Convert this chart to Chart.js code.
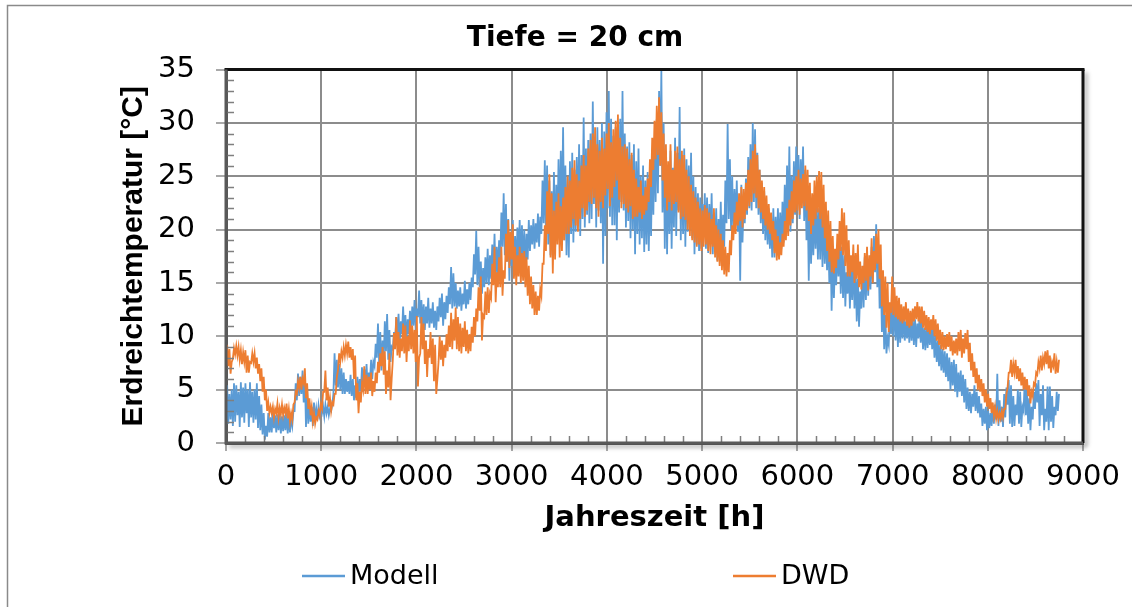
<!DOCTYPE html>
<html>
<head>
<meta charset="utf-8">
<script src="https://cdn.jsdelivr.net/npm/chart.js@4.4.1/dist/chart.umd.min.js"></script>
<style>
  html, body { margin: 0; padding: 0; background: #ffffff; }
  #wrap { position: relative; width: 1132px; height: 607px; }
  canvas { display: block; }
</style>
</head>
<body>
<div id="wrap"><canvas id="c" width="1132" height="607"></canvas></div>
<script>
// ---- data: daily low / daily high of each series (day 0 = hour 0) ----
const hoursPerDay = 24;
const seriesNames = ["Modell", "DWD"];
const xTicks = [0, 1000, 2000, 3000, 4000, 5000, 6000, 7000, 8000, 9000];
const yTicks = [0, 5, 10, 15, 20, 25, 30, 35];

const modellHigh = [
  5.4, 4.6, 5.0, 5.6, 5.4, 4.8, 5.7, 5.2, 5.6, 5.0,
  5.7, 4.8, 5.0, 5.6, 4.4, 3.6, 2.8, 1.6, 2.8, 2.4,
  2.8, 2.6, 2.7, 2.8, 2.5, 2.6, 2.8, 2.4, 2.3, 3.0,
  5.6, 6.5, 6.2, 6.8, 6.4, 5.0, 3.8, 3.4, 3.8, 3.2,
  3.5, 3.2, 3.4, 3.6, 3.4, 3.2, 3.6, 8.4, 7.8, 7.4,
  7.0, 6.6, 6.0, 5.8, 6.4, 6.0, 5.4, 6.2, 6.0, 7.1,
  6.9, 7.4, 6.6, 7.8, 7.6, 9.3, 11.2, 10.4, 9.6, 11.4,
  12.1, 10.6, 9.0, 10.4, 11.8, 12.1, 11.4, 12.8, 12.0, 11.6,
  12.4, 12.8, 13.4, 12.6, 14.3, 13.4, 13.0, 12.8, 13.6, 12.6,
  13.2, 12.4, 12.8, 13.6, 14.0, 13.2, 13.8, 14.6, 16.5, 15.9,
  15.0, 14.3, 14.6, 14.0, 15.2, 14.4, 15.0, 15.5, 17.7, 19.9,
  18.4, 17.0, 16.4, 17.4, 18.2, 17.6, 18.6, 19.6, 18.4, 19.0,
  21.6, 23.4, 22.4, 21.0, 19.8, 20.9, 19.4, 20.2, 20.9, 20.4,
  20.0, 19.6, 20.9, 20.4, 21.0, 20.6, 21.5, 21.2, 24.6, 26.5,
  26.0, 24.6, 23.6, 25.4, 24.2, 26.6, 27.4, 29.6, 26.0, 25.0,
  26.4, 27.2, 25.6, 26.8, 28.0, 27.0, 30.5, 27.6, 28.4, 29.0,
  32.0, 28.6, 29.6, 28.4, 30.0, 29.2, 31.0, 33.0, 30.4, 28.8,
  29.6, 28.4, 30.4, 33.0, 29.0, 27.8, 28.2, 27.0, 28.0, 26.4,
  27.6, 25.0, 26.0, 24.6, 25.4, 24.2, 27.0, 28.6, 30.4, 33.0,
  34.9, 30.0, 27.4, 26.0, 27.4, 25.8, 28.6, 27.2, 31.5, 27.0,
  27.6, 26.6, 26.0, 27.2, 25.0, 24.0, 23.4, 23.0, 22.4, 23.4,
  23.0, 22.4, 23.4, 21.6, 22.0, 21.0, 22.6, 21.4, 24.6, 29.9,
  26.6, 25.0, 23.8, 24.6, 23.0, 24.2, 22.4, 24.8, 26.8, 28.0,
  30.0, 29.4, 27.2, 25.6, 24.4, 23.6, 22.4, 22.0, 21.4, 22.0,
  21.2, 22.0, 21.6, 22.6, 24.2, 26.0, 27.8, 25.0, 26.4, 27.8,
  27.0, 26.6, 27.8, 25.6, 23.4, 22.0, 20.8, 21.8, 22.6, 22.0,
  22.6, 21.6, 20.4, 19.8, 19.2, 17.8, 17.0, 18.6, 19.5, 18.4,
  17.6, 16.0, 16.8, 16.2, 17.6, 16.4, 15.4, 14.2, 16.6, 17.4,
  18.0, 17.2, 18.4, 19.4, 20.5, 18.6, 16.4, 14.2, 12.0, 9.8,
  12.6, 14.0, 13.4, 12.8, 12.2, 11.8, 12.4, 11.4, 12.0, 11.6,
  11.8, 11.6, 11.2, 12.0, 11.4, 10.8, 11.0, 10.6, 11.2, 10.8,
  10.0, 9.6, 9.2, 8.8, 8.6, 8.4, 8.0, 7.6, 7.8, 7.4,
  6.6, 6.8, 6.4, 6.0, 5.2, 4.8, 4.6, 5.4, 4.8, 4.4,
  3.7, 3.2, 3.4, 3.0, 2.8, 3.4, 3.6, 6.5, 4.0, 3.4,
  4.6, 5.2, 5.9, 5.4, 4.4, 3.6, 5.0, 4.8, 3.4, 5.9,
  5.0, 4.2, 3.4, 4.8, 5.6, 5.9, 4.6, 5.4, 3.2, 5.3,
  5.3, 4.4, 3.4, 4.8, 4.6
];
const modellLow = [
  1.2, 1.8, 2.2, 1.6, 2.0, 2.6, 1.5, 2.4, 1.9, 2.8,
  1.5, 2.4, 1.9, 2.2, 1.4, 1.2, 0.8, 0.3, 0.6, 1.0,
  1.0, 1.4, 1.0, 1.2, 0.9, 1.1, 1.2, 0.9, 1.0, 1.6,
  3.0, 4.0, 4.4, 4.6, 3.8, 1.5, 1.8, 2.0, 1.6, 2.2,
  2.2, 2.6, 2.8, 2.5, 2.8, 2.6, 3.0, 4.6, 5.4, 5.2,
  5.0, 4.6, 4.6, 4.8, 4.6, 4.4, 4.0, 4.2, 4.4, 4.8,
  4.8, 5.6, 5.0, 5.8, 6.0, 7.2, 8.0, 7.6, 6.8, 7.8,
  8.6, 7.8, 7.6, 8.8, 9.6, 9.8, 9.4, 10.2, 10.0, 9.6,
  10.2, 10.6, 11.0, 10.6, 11.8, 11.2, 10.8, 10.6, 11.2, 10.8,
  11.2, 10.8, 10.6, 11.4, 11.8, 11.0, 11.6, 12.2, 13.0, 12.6,
  12.8, 12.6, 12.8, 12.4, 13.0, 12.6, 13.0, 13.4, 14.6, 15.8,
  14.8, 14.6, 14.0, 14.6, 15.0, 14.8, 15.4, 16.0, 15.2, 15.8,
  17.2, 18.4, 17.6, 17.0, 15.2, 16.6, 15.6, 16.2, 17.2, 16.6,
  16.4, 16.0, 17.2, 18.0, 18.6, 18.2, 18.8, 18.4, 19.6, 20.6,
  19.4, 18.6, 17.6, 18.6, 18.0, 19.4, 20.0, 21.0, 19.0, 17.6,
  17.4, 19.6, 18.8, 19.8, 20.4, 19.4, 21.0, 20.2, 21.4, 20.6,
  21.0, 22.4, 20.2, 21.8, 20.6, 16.8, 19.4, 22.0, 21.2, 20.4,
  20.4, 19.0, 21.6, 22.6, 21.8, 20.2, 20.8, 19.2, 20.0, 17.7,
  19.6, 18.6, 19.2, 17.9, 18.6, 18.0, 19.4, 21.4, 22.6, 23.4,
  26.0, 21.6, 18.2, 17.7, 19.6, 18.2, 20.2, 19.4, 21.8, 19.0,
  19.6, 18.4, 19.8, 20.0, 19.2, 17.7, 18.6, 18.0, 18.2, 19.4,
  18.2, 17.8, 18.8, 17.7, 18.0, 17.1, 18.0, 17.4, 18.4, 20.6,
  21.0, 20.0, 19.6, 20.4, 19.8, 15.2, 18.8, 20.6, 21.4, 22.0,
  21.8, 22.6, 22.0, 21.4, 20.6, 19.6, 19.0, 18.6, 18.2, 17.4,
  17.4, 18.0, 17.8, 18.2, 18.8, 19.6, 20.4, 19.8, 20.6, 21.4,
  22.4, 21.0, 23.0, 20.8, 19.0, 15.2, 16.8, 17.6, 18.2, 17.2,
  17.2, 16.5, 16.8, 16.2, 15.0, 12.4, 13.6, 14.8, 15.6, 14.0,
  13.6, 12.8, 14.0, 12.6, 13.4, 12.6, 11.4, 10.9, 12.6, 12.7,
  13.4, 13.8, 14.4, 15.0, 16.0, 14.6, 12.6, 10.4, 8.8, 8.4,
  9.2, 10.2, 10.0, 9.6, 9.0, 9.4, 9.8, 9.6, 9.8, 9.4,
  9.6, 9.2, 9.0, 9.8, 9.4, 8.8, 8.7, 8.9, 9.2, 8.8,
  8.0, 7.6, 7.2, 6.8, 6.6, 6.2, 5.8, 5.0, 5.4, 4.8,
  4.3, 4.8, 4.4, 3.8, 3.2, 3.0, 2.8, 3.4, 3.0, 2.8,
  2.4, 1.6, 1.8, 1.2, 1.4, 1.6, 1.8, 2.2, 1.6, 2.0,
  1.5, 2.4, 3.6, 1.8, 1.5, 1.6, 2.6, 1.8, 1.5, 3.0,
  2.6, 1.8, 1.2, 2.2, 3.2, 3.8, 1.6, 2.6, 1.2, 2.0,
  1.2, 2.0, 1.4, 2.6, 3.0
];

const dwdHigh = [
  9.2, 8.8, 7.6, 8.9, 9.1, 9.0, 8.7, 8.5, 8.7, 8.2,
  7.6, 8.4, 8.4, 8.0, 7.4, 7.0, 6.2, 5.0, 3.8, 3.4,
  3.4, 3.2, 3.7, 3.3, 3.6, 3.3, 3.7, 3.2, 2.8, 3.6,
  4.8, 5.8, 6.2, 6.0, 7.0, 5.6, 4.2, 3.4, 2.8, 2.4,
  3.0, 3.6, 4.8, 6.8, 5.2, 4.2, 3.8, 4.6, 6.2, 8.4,
  8.6, 9.0, 9.2, 9.5, 9.0, 8.8, 8.2, 5.6, 4.8, 5.6,
  7.2, 6.4, 6.2, 6.6, 5.8, 6.6, 7.6, 8.4, 9.0, 8.6,
  6.8, 8.4, 6.0, 10.3, 11.8, 10.4, 9.8, 11.2, 11.0, 10.0,
  11.5, 11.0, 10.6, 11.9, 8.0, 11.8, 11.2, 9.6, 8.8, 10.4,
  9.8, 9.2, 6.0, 10.0, 9.6, 9.2, 10.2, 11.0, 12.2, 11.6,
  12.7, 11.8, 11.2, 10.8, 11.4, 10.6, 10.2, 10.9, 11.8, 12.6,
  14.6, 15.6, 12.0, 14.2, 14.6, 14.0, 16.8, 18.4, 16.0, 17.4,
  18.4, 16.2, 19.6, 20.9, 19.8, 20.5, 18.4, 17.6, 18.4, 17.8,
  18.0, 17.4, 16.6, 15.6, 14.8, 14.2, 13.8, 14.4, 16.8, 20.4,
  23.6, 25.2, 23.4, 21.8, 22.6, 23.4, 22.2, 23.0, 24.0, 25.0,
  24.6, 25.8, 26.5, 25.2, 24.6, 26.0, 27.0, 26.0, 27.6, 28.4,
  29.0, 29.6, 28.0, 27.4, 28.6, 27.6, 29.0, 30.0, 28.2, 29.4,
  30.2, 30.8, 28.6, 27.8, 28.0, 27.6, 26.6, 27.2, 25.6, 24.8,
  24.0, 24.6, 23.2, 24.0, 24.8, 26.6, 28.6, 30.2, 31.6, 32.4,
  31.0, 29.0, 28.0, 26.4, 28.0, 25.6, 27.4, 27.8, 26.6, 27.4,
  27.0, 25.6, 25.0, 24.2, 23.6, 23.0, 22.6, 22.0, 21.8, 22.3,
  22.0, 21.6, 21.0, 22.0, 20.4, 20.0, 19.6, 19.0, 18.4, 17.8,
  19.0, 20.4, 21.6, 22.6, 23.4, 24.0, 23.8, 24.4, 25.6, 26.6,
  27.4, 28.0, 27.0, 25.6, 24.6, 24.0, 23.2, 22.4, 21.6, 20.8,
  20.0, 19.4, 18.8, 19.6, 20.8, 22.0, 22.8, 23.6, 24.6, 25.0,
  25.6, 24.8, 25.2, 26.0, 25.6, 24.4, 23.4, 24.6, 25.0, 25.5,
  25.4, 24.2, 22.6, 21.8, 20.8, 19.4, 18.2, 19.6, 20.8, 22.0,
  21.6, 20.4, 19.0, 17.6, 18.6, 17.8, 18.6, 17.0, 16.6, 17.8,
  18.4, 17.6, 19.2, 18.0, 19.6, 20.0, 18.6, 16.2, 15.6, 15.0,
  13.2, 15.6, 14.6, 13.8, 13.6, 13.0, 12.8, 13.2, 12.6, 12.4,
  12.6, 12.8, 13.2, 12.8, 12.8, 12.4, 12.0, 11.8, 11.6, 12.0,
  11.6, 11.2, 10.6, 10.4, 10.0, 10.2, 10.4, 10.0, 9.6, 9.8,
  10.4, 10.6, 9.8, 10.3, 10.6, 9.4, 8.4, 7.6, 7.0, 6.4,
  6.0, 5.6, 5.0, 4.6, 4.2, 3.8, 3.4, 3.0, 2.8, 3.0,
  3.2, 4.6, 6.6, 7.8, 7.4, 7.8, 7.2, 7.0, 6.6, 6.2,
  6.0, 5.4, 4.8, 5.6, 6.6, 7.6, 8.2, 8.0, 8.6, 8.7,
  8.2, 7.6, 8.4, 7.6, 7.8
];
const dwdLow = [
  8.0, 7.2, 6.5, 7.9, 8.3, 8.2, 7.8, 7.4, 7.6, 6.6,
  6.6, 7.5, 7.6, 7.0, 6.5, 5.8, 4.8, 4.0, 3.0, 2.8,
  2.8, 2.4, 2.8, 2.4, 2.7, 2.6, 2.8, 2.3, 2.0, 2.2,
  3.8, 4.6, 5.2, 5.0, 5.6, 4.2, 3.2, 2.6, 2.0, 1.8,
  2.2, 2.6, 3.2, 4.8, 4.0, 3.4, 3.0, 3.6, 4.6, 6.8,
  7.6, 8.0, 8.2, 8.4, 8.0, 7.8, 6.0, 4.0, 2.8, 3.8,
  5.0, 4.6, 4.6, 5.0, 4.4, 4.8, 5.6, 6.6, 7.2, 6.4,
  4.6, 5.2, 4.0, 7.8, 8.8, 8.2, 8.0, 8.6, 8.4, 7.6,
  8.6, 8.8, 8.4, 7.6, 5.3, 8.4, 8.8, 7.4, 6.2, 8.0,
  7.4, 5.8, 4.6, 7.6, 7.8, 7.2, 8.0, 8.6, 9.0, 8.8,
  9.6, 8.8, 8.6, 8.4, 9.0, 8.6, 8.4, 8.6, 9.4, 10.0,
  11.4, 12.4, 9.6, 11.8, 12.0, 12.2, 13.6, 14.8, 13.2, 14.6,
  14.6, 13.8, 15.4, 17.0, 16.4, 17.2, 15.4, 14.8, 15.6, 15.0,
  15.2, 14.6, 13.8, 13.0, 12.6, 12.0, 12.0, 12.4, 13.8, 16.8,
  18.0, 19.6, 17.4, 15.9, 17.2, 18.6, 17.4, 18.0, 19.0, 19.6,
  19.6, 20.2, 21.0, 20.4, 19.8, 21.0, 22.0, 21.2, 21.8, 22.6,
  22.4, 23.0, 22.0, 21.2, 22.6, 22.0, 23.2, 23.8, 22.2, 23.0,
  24.0, 24.6, 22.8, 22.0, 22.4, 22.0, 21.6, 22.2, 21.0, 21.2,
  21.2, 21.6, 21.0, 21.4, 21.8, 22.6, 24.0, 25.6, 26.6, 27.0,
  26.0, 24.6, 23.0, 21.8, 22.6, 21.8, 22.4, 22.6, 21.6, 21.0,
  21.2, 20.9, 20.0, 19.4, 19.0, 18.8, 18.4, 18.6, 18.0, 18.4,
  18.6, 18.0, 17.7, 18.4, 17.4, 17.0, 16.6, 16.2, 15.8, 15.6,
  16.0, 17.6, 19.0, 19.6, 20.4, 20.8, 20.2, 21.0, 21.8, 22.2,
  22.6, 23.4, 23.0, 22.0, 21.6, 21.0, 20.4, 20.0, 19.6, 19.0,
  17.8, 17.1, 17.2, 17.6, 18.4, 19.0, 19.4, 20.4, 21.0, 21.6,
  21.8, 21.4, 22.0, 22.2, 21.8, 20.8, 19.6, 20.4, 21.0, 21.6,
  21.0, 20.2, 19.2, 18.0, 17.0, 16.0, 15.9, 16.4, 17.2, 18.0,
  17.6, 16.6, 15.6, 15.6, 16.0, 15.0, 15.4, 14.6, 14.4, 15.0,
  15.2, 14.3, 15.6, 15.0, 16.2, 16.8, 15.4, 12.8, 12.0, 10.8,
  10.4, 12.2, 12.0, 11.8, 11.6, 11.4, 11.2, 11.4, 11.0, 10.8,
  11.0, 11.4, 11.6, 11.4, 11.2, 10.8, 10.6, 10.4, 10.2, 10.6,
  10.0, 9.6, 9.2, 8.8, 8.7, 8.8, 9.0, 8.6, 8.2, 8.4,
  8.2, 8.6, 8.0, 8.4, 8.8, 7.6, 6.8, 6.2, 5.6, 5.0,
  4.8, 4.4, 3.8, 3.4, 3.2, 2.8, 2.6, 2.3, 2.2, 2.3,
  2.4, 3.2, 5.2, 6.6, 6.2, 6.6, 6.0, 5.8, 5.4, 5.0,
  5.0, 4.4, 3.7, 4.4, 5.4, 6.4, 7.0, 6.8, 7.4, 7.4,
  7.0, 6.6, 7.2, 6.5, 6.6
];

// ---- styling ----
const COLORS = { modell: "#5B9BD5", dwd: "#ED7D31" };
const GRID = "#8c8c8c";
const AXIS = "#595959";

// each day: its low and its high, half a day apart
function dailyPoints(low, high) {
  const pts = [];
  for (let d = 0; d < low.length; d++) {
    pts.push({ x: d * hoursPerDay, y: low[d] });
    pts.push({ x: d * hoursPerDay + hoursPerDay / 2, y: high[d] });
  }
  return pts;
}

const framePlugin = {
  id: "frame",
  beforeDraw(chart) {
    const ctx = chart.ctx;
    ctx.save();
    ctx.fillStyle = "#ffffff";
    ctx.fillRect(0, 0, chart.width, chart.height);
    ctx.strokeStyle = "#8a8a8a";
    ctx.lineWidth = 1.5;
    ctx.beginPath();
    ctx.moveTo(7.5, chart.height);
    ctx.lineTo(7.5, 5.5);
    ctx.lineTo(chart.width, 5.5);
    ctx.stroke();
    ctx.restore();
  }
};

const plotFramePlugin = {
  id: "plotFrame",
  afterDatasetsDraw(chart) {
    const { ctx, chartArea: a, scales } = chart;
    const xs = scales.x, ys = scales.y;
    ctx.save();
    ctx.strokeStyle = "#7f7f7f";
    ctx.lineWidth = 1.5;
    ctx.beginPath();
    for (let v = ys.min; v <= ys.max; v += 1) {
      if (v % 5 === 0) continue;
      const py = Math.round(ys.getPixelForValue(v)) + 0.5;
      ctx.moveTo(a.left, py);
      ctx.lineTo(a.left + 8, py);
    }
    for (let h = xs.min; h <= xs.max; h += 200) {
      if (h % 1000 === 0) continue;
      const px = Math.round(xs.getPixelForValue(h)) + 0.5;
      ctx.moveTo(px, a.bottom);
      ctx.lineTo(px, a.bottom - 7);
    }
    ctx.stroke();

    ctx.shadowColor = "rgba(0,0,0,0.35)";
    ctx.shadowBlur = 4;
    ctx.shadowOffsetX = 3;
    ctx.shadowOffsetY = 3;
    ctx.lineWidth = 3;
    ctx.strokeStyle = "#111111";
    ctx.beginPath();
    ctx.moveTo(a.right, a.top);
    ctx.lineTo(a.right, a.bottom);
    ctx.stroke();
    ctx.strokeStyle = AXIS;
    ctx.beginPath();
    ctx.moveTo(a.left, a.bottom);
    ctx.lineTo(a.right, a.bottom);
    ctx.stroke();
    ctx.shadowColor = "rgba(0,0,0,0)";
    ctx.strokeStyle = "#111111";
    ctx.beginPath();
    ctx.moveTo(a.left - 1.5, a.top);
    ctx.lineTo(a.right + 1.5, a.top);
    ctx.stroke();
    ctx.strokeStyle = AXIS;
    ctx.beginPath();
    ctx.moveTo(a.left, a.top);
    ctx.lineTo(a.left, a.bottom + 1.5);
    ctx.stroke();
    ctx.restore();
  }
};

const legendSpots = [
  { x0: 302, x1: 345, tx: 350 },
  { x0: 733, x1: 776, tx: 781 }
];
const legendY = 576;
const legendPlugin = {
  id: "wideLegend",
  afterDraw(chart) {
    const ctx = chart.ctx;
    ctx.save();
    ctx.font = '27px "DejaVu Sans"';
    ctx.textBaseline = "middle";
    ctx.textAlign = "left";
    chart.data.datasets.forEach((ds, i) => {
      const s = legendSpots[i];
      ctx.strokeStyle = ds.borderColor;
      ctx.lineWidth = 2.5;
      ctx.beginPath();
      ctx.moveTo(s.x0, legendY);
      ctx.lineTo(s.x1, legendY);
      ctx.stroke();
      ctx.fillStyle = "#000000";
      ctx.fillText(ds.label, s.tx, legendY + 1);
    });
    ctx.restore();
  }
};

new Chart(document.getElementById("c"), {
  type: "line",
  data: {
    datasets: [
      { label: seriesNames[0], data: dailyPoints(modellLow, modellHigh), borderColor: COLORS.modell, backgroundColor: COLORS.modell, borderWidth: 1.8, pointRadius: 0, tension: 0, order: 1 },
      { label: seriesNames[1], data: dailyPoints(dwdLow, dwdHigh), borderColor: COLORS.dwd, backgroundColor: COLORS.dwd, borderWidth: 1.8, pointRadius: 0, tension: 0, order: 0 }
    ]
  },
  options: {
    responsive: false,
    animation: false,
    layout: { padding: { left: 67, right: 49, top: 6, bottom: 60 } },
    plugins: {
      legend: { display: false },
      tooltip: { enabled: false },
      title: {
        display: true,
        text: "Tiefe = 20 cm",
        color: "#000000",
        font: { family: "DejaVu Sans", size: 28, weight: "bold" },
        padding: { top: 16, bottom: 14 }
      }
    },
    scales: {
      x: {
        type: "linear",
        min: 0, max: 9000,
        afterBuildTicks: s => { s.ticks = xTicks.map(v => ({ value: v })); },
        afterFit: s => { s.height = 104; },
        ticks: { color: "#000000", font: { family: "DejaVu Sans", size: 29 }, padding: 9, maxRotation: 0, autoSkip: false, callback: v => String(v) },
        grid: { color: GRID, lineWidth: 2, tickColor: GRID, tickWidth: 1.5, tickLength: 8 },
        border: { display: true, color: AXIS, width: 3 },
        title: {
          display: true, text: "Jahreszeit [h]", color: "#000000",
          font: { family: "DejaVu Sans", size: 29, weight: "bold" },
          padding: { top: 0, bottom: 11 }
        }
      },
      y: {
        type: "linear",
        min: 0, max: 35,
        afterBuildTicks: s => { s.ticks = yTicks.map(v => ({ value: v })); },
        afterFit: s => { s.width = 159; },
        ticks: { color: "#000000", font: { family: "DejaVu Sans", size: 29 }, padding: 21, callback: v => String(v) },
        grid: { color: GRID, lineWidth: 2, tickColor: GRID, tickWidth: 1.5, tickLength: 10 },
        border: { display: true, color: AXIS, width: 3 },
        title: {
          display: true, text: "Erdreichtemperatur [°C]", color: "#000000",
          font: { family: "Liberation Sans", size: 30, weight: "bold" },
          padding: { top: 49, bottom: 0 }
        }
      }
    }
  },
  plugins: [framePlugin, plotFramePlugin, legendPlugin]
});
</script>
</body>
</html>
